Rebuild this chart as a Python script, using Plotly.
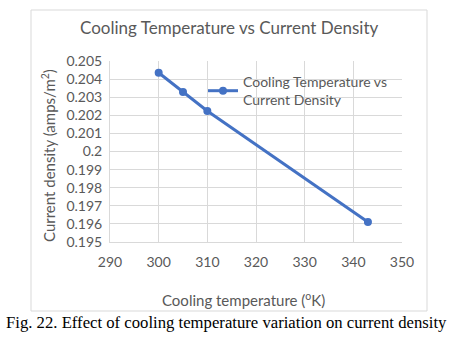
import plotly.graph_objects as go

temperature = [300, 305, 310, 343]
current_density = [0.20435, 0.20329, 0.20224, 0.19611]
x_ticks = [290, 300, 310, 320, 330, 340, 350]
y_ticks = [0.195, 0.196, 0.197, 0.198, 0.199, 0.2, 0.201, 0.202, 0.203, 0.204, 0.205]
y_tick_labels = ["0.195", "0.196", "0.197", "0.198", "0.199", "0.2", "0.201",
                 "0.202", "0.203", "0.204", "0.205"]

W, H = 465, 350
L, R, T, B = 110, 402, 61, 242
pw, ph = R - L, B - T

def px(x):
    return (x - L) / pw

def py(y):
    return (B - y) / ph

font = "Lato, 'Open Sans', sans-serif"
gray = "#595959"

fig = go.Figure()
fig.add_trace(go.Scatter(
    x=temperature, y=current_density, mode="lines+markers",
    name="Cooling Temperature vs<br>Current Density",
    line=dict(color="#4472C4", width=3),
    marker=dict(color="#4472C4", size=8),
))

fig.update_layout(
    width=W, height=H,
    margin=dict(l=L, r=W - R, t=T, b=H - B),
    paper_bgcolor="white", plot_bgcolor="white",
    font=dict(family=font, color=gray, size=14),
    showlegend=True,
    legend=dict(x=px(203), y=py(66), xanchor="left", yanchor="top",
                bgcolor="rgba(0,0,0,0)", font=dict(size=14, color=gray),
                itemwidth=30, tracegroupgap=0),
    xaxis=dict(range=[290, 350], tickvals=x_ticks, showgrid=True,
               gridcolor="#d9d9d9", zeroline=False, showline=True,
               linecolor="#d9d9d9", ticks="", tickfont=dict(size=14, color=gray),
               ticklabelstandoff=7),
    yaxis=dict(range=[0.195, 0.205], tickvals=y_ticks, ticktext=y_tick_labels,
               showgrid=True, gridcolor="#d9d9d9", zeroline=False, showline=True,
               linecolor="#d9d9d9", ticks="", tickfont=dict(size=14, color=gray),
               ticklabelstandoff=4),
    shapes=[dict(type="rect", xref="paper", yref="paper",
                 x0=px(31), x1=px(427), y0=py(311), y1=py(10),
                 line=dict(color="#d9d9d9", width=1), layer="below")],
    annotations=[
        dict(text="Cooling Temperature vs Current Density", xref="paper", yref="paper",
             x=px(229), y=py(27), xanchor="center", yanchor="middle", showarrow=False,
             font=dict(size=17, color=gray, family=font)),
        dict(text="Cooling temperature (<sup>o</sup>K)", xref="paper", yref="paper",
             x=px(243), y=py(299), xanchor="center", yanchor="middle", showarrow=False,
             font=dict(size=15, color=gray, family=font)),
        dict(text="Current density (amps/m<sup>2</sup>)", xref="paper", yref="paper",
             x=px(48), y=py(156), xanchor="center", yanchor="middle", showarrow=False,
             textangle=-90, font=dict(size=15, color=gray, family=font)),
        dict(text="Fig. 22. Effect of cooling temperature variation on current density",
             xref="paper", yref="paper", x=px(226), y=py(322), xanchor="center",
             yanchor="middle", showarrow=False,
             font=dict(size=16.7, color="black", family="'Liberation Serif', serif")),
    ],
)

fig.write_html("out.html")
